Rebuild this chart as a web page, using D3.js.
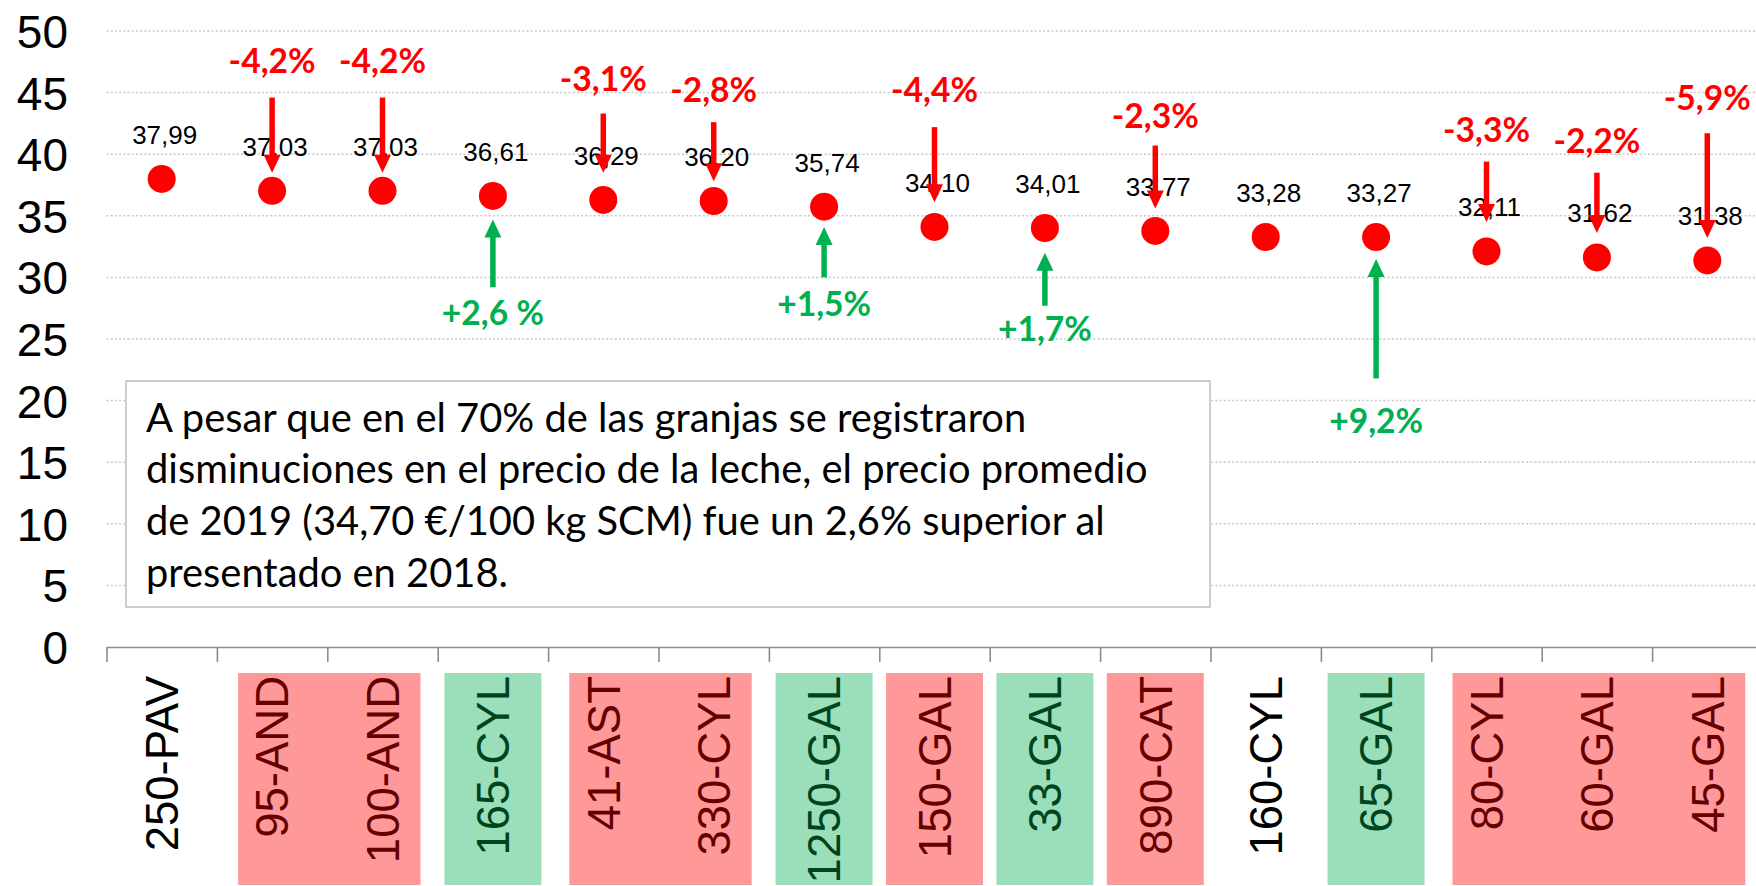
<!DOCTYPE html>
<html>
<head>
<meta charset="utf-8">
<script src="https://cdn.jsdelivr.net/npm/d3@7"></script>
<style>
  html, body { margin: 0; padding: 0; background: #fff; }
  svg { display: block; }
</style>
</head>
<body>
<svg id="chart" width="1756" height="886"></svg>
<script>
// ---------------- DATA ----------------
const categories = ["250-PAV","95-AND","100-AND","165-CYL","41-AST","330-CYL","1250-GAL","150-GAL","33-GAL","890-CAT","160-CYL","65-GAL","80-CYL","60-GAL","45-GAL"];
const prices = [37.99, 37.03, 37.03, 36.61, 36.29, 36.20, 35.74, 34.10, 34.01, 33.77, 33.28, 33.27, 32.11, 31.62, 31.38];

const yTicks = [0, 5, 10, 15, 20, 25, 30, 35, 40, 45, 50];
const yTickLabels = ["0", "5", "10", "15", "20", "25", "30", "35", "40", "45", "50"];

// change annotations (arrow ends and label anchor in data units, €/100 kg)
const changeCats   = ["95-AND","100-AND","165-CYL","41-AST","330-CYL","1250-GAL","150-GAL","33-GAL","890-CAT","65-GAL","80-CYL","60-GAL","45-GAL"];
const changeTexts  = ["-4,2%","-4,2%","+2,6 %","-3,1%","-2,8%","+1,5%","-4,4%","+1,7%","-2,3%","+9,2%","-3,3%","-2,2%","-5,9%"];
const arrowFrom    = [44.6, 44.6, 29.2, 43.3, 42.6, 30.0, 42.2, 27.7, 40.7, 21.8, 39.4, 38.5, 41.7];
const arrowTo      = [38.5, 38.5, 34.7, 38.5, 37.8, 34.1, 36.1, 32.0, 35.6, 31.5, 34.5, 33.6, 33.2];
const changeLabelAt= [46.6, 46.6, 26.1, 45.1, 44.2, 26.9, 44.2, 24.8, 42.1, 17.4, 41.0, 40.1, 43.6];

// highlighted category-label groups
const groupStart = ["95-AND","165-CYL","41-AST","1250-GAL","150-GAL","33-GAL","890-CAT","65-GAL","80-CYL"];
const groupEnd   = ["100-AND","165-CYL","330-CYL","1250-GAL","150-GAL","33-GAL","890-CAT","65-GAL","45-GAL"];
const groupKind  = ["down","up","down","up","down","up","down","up","down"];

const noteLines = [
  "A pesar que en el 70% de las granjas se registraron",
  "disminuciones en el precio de la leche, el precio promedio",
  "de 2019 (34,70 €/100 kg SCM) fue un 2,6% superior al",
  "presentado en 2018."
];

// ---------------- STYLE ----------------
const RED = "#FF0000", GREEN = "#00B050";
const BOX_FILL = { down: "#FF9999", up: "#9ADFBA" };
const BOX_TEXT = { down: "#660000", up: "#00441E" };
const ARIAL = "'Liberation Sans', Arial, sans-serif";
const CALIBRI = "Lato, 'Open Sans', sans-serif";

const svg = d3.select("#chart");
svg.append("rect").attr("width", 1756).attr("height", 886).attr("fill", "#fff");

const x = d3.scaleBand().domain(categories).range([106.5, 1762.5]).padding(0);
const xEdge = d3.scaleLinear().domain([0, categories.length]).range([106.5, 1762.5]);
const y = d3.scaleLinear().domain([0, 50]).range([647, 31]);
const cx = c => x(c) + x.bandwidth() / 2;
const fmt = d3.formatLocale({ decimal: ",", thousands: ".", grouping: [3], currency: ["", "€"] }).format(".2f");

function measure(text, family, size, weight) {
  const t = svg.append("text").style("font-family", family).style("font-size", size + "px")
    .style("font-weight", weight || "normal").text(text);
  const w = t.node().getComputedTextLength();
  t.remove();
  return w;
}

// ---------------- GRIDLINES ----------------
svg.append("g").selectAll("line").data(yTicks.filter(v => v > 0)).join("line")
  .attr("x1", 106.5).attr("x2", 1756)
  .attr("y1", d => y(d)).attr("y2", d => y(d))
  .attr("stroke", "#C8C8C8").attr("stroke-width", 1.5).attr("stroke-dasharray", "2,2.2");

// ---------------- Y AXIS ----------------
const yAxis = svg.append("g").attr("transform", "translate(68,0)")
  .call(d3.axisLeft(y).tickValues(yTicks).tickSize(0).tickPadding(0)
    .tickFormat((d, i) => yTickLabels[i]));
yAxis.select(".domain").remove();
yAxis.selectAll("text").style("font-family", ARIAL).style("font-size", "46px")
  .attr("fill", "#000").attr("dy", "0.36em");

// ---------------- X AXIS ----------------
const xAxis = svg.append("g").attr("transform", `translate(0,${y(0)})`)
  .call(d3.axisBottom(xEdge).tickValues(d3.range(0, categories.length + 1)).tickSize(15)
    .tickSizeOuter(0).tickFormat(""));
xAxis.select(".domain").attr("stroke", "#8C8C8C").attr("stroke-width", 1.6);
xAxis.selectAll(".tick line").attr("stroke", "#8C8C8C").attr("stroke-width", 1.6);

// ---------------- CATEGORY LABEL BOXES ----------------
const groups = groupStart.map((s, i) => ({ s, e: groupEnd[i], kind: groupKind[i] }));
const kindOf = {};
groups.forEach(g => {
  const i0 = categories.indexOf(g.s), i1 = categories.indexOf(g.e);
  for (let i = i0; i <= i1; i++) kindOf[categories[i]] = g.kind;
});
svg.append("g").selectAll("rect").data(groups).join("rect")
  .attr("x", g => cx(g.s) - (g.s === g.e ? 48.5 : 34))
  .attr("width", g => cx(g.e) - cx(g.s) + (g.s === g.e ? 97 : 72))
  .attr("y", 673).attr("height", 212)
  .attr("fill", g => BOX_FILL[g.kind]);

svg.append("g").selectAll("text").data(categories).join("text")
  .attr("transform", c => `translate(${cx(c)},676) rotate(-90)`)
  .attr("text-anchor", "end").attr("dy", "0.36em")
  .style("font-family", ARIAL).style("font-size", "45.5px")
  .attr("fill", c => kindOf[c] ? BOX_TEXT[kindOf[c]] : "#000")
  .text(c => c);

// ---------------- NOTE BOX ----------------
svg.append("rect").attr("x", 126).attr("y", 381).attr("width", 1084).attr("height", 226)
  .attr("fill", "#fff").attr("stroke", "#BFBFBF").attr("stroke-width", 1.5);
const noteSize = 42 * 1002 / measure(noteLines[1], CALIBRI, 42);
svg.append("g").selectAll("text").data(noteLines).join("text")
  .attr("x", 146).attr("y", (d, i) => 431.5 + i * 51.8)
  .style("font-family", CALIBRI).style("font-size", noteSize + "px").attr("fill", "#000")
  .text(d => d);

// ---------------- VALUE LABELS ----------------
svg.append("g").selectAll("text").data(prices).join("text")
  .attr("x", (d, i) => cx(categories[i]) + 3)
  .attr("y", d => y(d) - 35)
  .attr("text-anchor", "middle")
  .style("font-family", ARIAL).style("font-size", "26px").attr("fill", "#000")
  .text(d => fmt(d));

// ---------------- ARROWS ----------------
const changes = changeCats.map((c, i) => ({
  c, text: changeTexts[i], from: arrowFrom[i], to: arrowTo[i], at: changeLabelAt[i],
  up: arrowTo[i] > arrowFrom[i]
}));
const HEAD_L = 18, HEAD_W = 8.5;
const ag = svg.append("g");
ag.selectAll("line").data(changes).join("line")
  .attr("x1", d => cx(d.c)).attr("x2", d => cx(d.c))
  .attr("y1", d => y(d.from))
  .attr("y2", d => y(d.to) + (d.up ? HEAD_L - 1 : -(HEAD_L - 1)))
  .attr("stroke", d => d.up ? GREEN : RED).attr("stroke-width", 5.5);
ag.selectAll("path").data(changes).join("path")
  .attr("d", d => {
    const xx = cx(d.c), tip = y(d.to), base = tip + (d.up ? HEAD_L : -HEAD_L);
    return `M${xx},${tip}L${xx - HEAD_W},${base}L${xx + HEAD_W},${base}Z`;
  })
  .attr("fill", d => d.up ? GREEN : RED);

// ---------------- POINTS ----------------
svg.append("g").selectAll("circle").data(prices).join("circle")
  .attr("cx", (d, i) => cx(categories[i])).attr("cy", d => y(d)).attr("r", 14)
  .attr("fill", RED);

// ---------------- CHANGE LABELS ----------------
const pctSize = 34 * 87 / measure("-4,2%", CALIBRI, 34, "bold");
svg.append("g").selectAll("text").data(changes).join("text")
  .attr("x", d => cx(d.c)).attr("y", d => y(d.at))
  .attr("text-anchor", "middle")
  .style("font-family", CALIBRI).style("font-weight", "bold").style("font-size", pctSize + "px")
  .attr("fill", d => d.up ? GREEN : RED)
  .text(d => d.text);
</script>
</body>
</html>
